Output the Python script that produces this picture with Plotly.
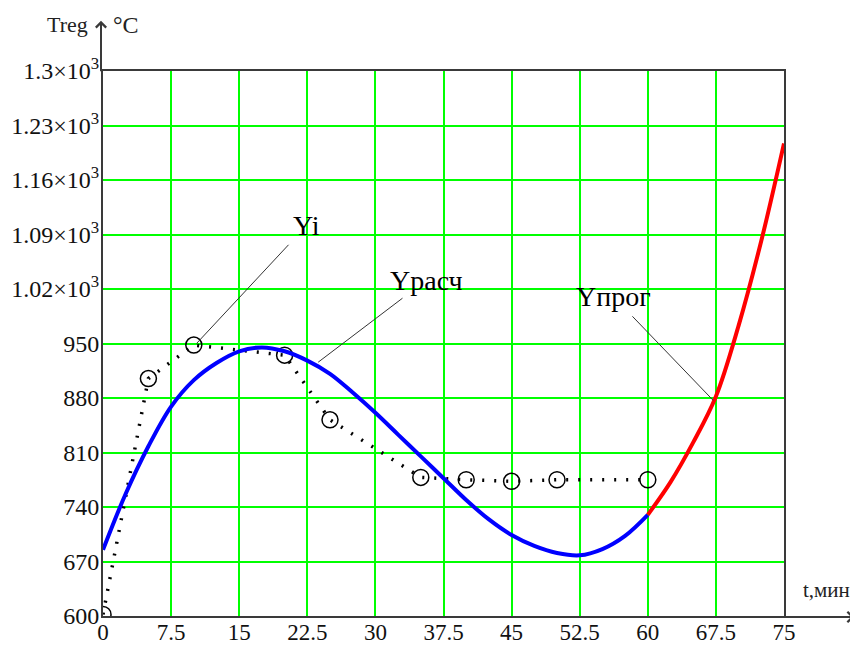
import plotly.graph_objects as go

# ---- data ----
t_calc = [0, 2.5, 5, 7.5, 10, 12.5, 15, 17.5, 20, 22.5, 25, 27.5, 30,
          32.5, 35, 37.5, 40, 42.5, 45, 47.5, 50, 52.5, 55, 57.5, 60]
y_calc = [685, 757, 818, 869, 903, 925, 940, 945, 940, 928, 911, 887, 861,
          833, 805, 777, 749, 724, 704, 690, 681, 678, 686, 703, 730]

t_prog = [60, 62.5, 65, 67.5, 70, 72.5, 75]
y_prog = [730, 772, 823, 882, 973, 1082, 1207]

t_obs = [0, 5, 10, 20, 25, 35, 40, 45, 50, 60]
y_obs = [602, 905, 948, 935, 852, 778, 775, 773, 775, 775]

x_ticks = [0, 7.5, 15, 22.5, 30, 37.5, 45, 52.5, 60, 67.5, 75]
x_tick_labels = ["0", "7.5", "15", "22.5", "30", "37.5", "45", "52.5", "60", "67.5", "75"]
y_ticks = [600, 670, 740, 810, 880, 950, 1020, 1090, 1160, 1230, 1300]
y_tick_labels = ["600", "670", "740", "810", "880", "950",
                 "1.02×10<sup>3</sup>", "1.09×10<sup>3</sup>", "1.16×10<sup>3</sup>",
                 "1.23×10<sup>3</sup>", "1.3×10<sup>3</sup>"]

SERIF = "Liberation Serif, Times New Roman, serif"
AXIS_COLOR = "#3a3a3a"

fig = go.Figure()

fig.add_trace(go.Scatter(
    x=t_obs, y=y_obs, mode="lines+markers", name="Yi",
    line=dict(color="black", width=3.5, dash="2px,10px"),
    marker=dict(symbol="circle-open", size=16, color="black", line=dict(width=1.5, color="black")),
))
fig.add_trace(go.Scatter(
    x=t_calc, y=y_calc, mode="lines", name="Yрасч",
    line=dict(color="#0000ff", width=4, shape="spline", smoothing=1.0),
))
fig.add_trace(go.Scatter(
    x=t_prog, y=y_prog, mode="lines", name="Yпрог",
    line=dict(color="#ff0000", width=4, shape="spline"),
))

annotations = [
    dict(x=10.3, y=950, xref="x", yref="y", text="Yi", showarrow=True,
         ax=110, ay=-118, arrowhead=0, arrowwidth=1, arrowcolor="#333",
         font=dict(family=SERIF, size=28, color="black"), borderpad=4),
    dict(x=23.7, y=926, xref="x", yref="y", text="Yрасч", showarrow=True,
         ax=108, ay=-82, arrowhead=0, arrowwidth=1, arrowcolor="#333",
         font=dict(family=SERIF, size=28, color="black"), borderpad=2),
    dict(x=67.2, y=877, xref="x", yref="y", text="Yпрог", showarrow=True,
         ax=-100, ay=-104, arrowhead=0, arrowwidth=1, arrowcolor="#333",
         font=dict(family=SERIF, size=28, color="black"), borderpad=4),
    # y-axis arrow
    dict(x=0, y=1.092, xref="paper", yref="paper", text="", showarrow=True,
         ax=0, ay=52, arrowhead=4, arrowsize=1, arrowwidth=2, arrowcolor=AXIS_COLOR,
         xshift=-2),
    # x-axis arrow
    dict(x=1.103, y=0, xref="paper", yref="paper", text="", showarrow=True,
         ax=-72, ay=0, arrowhead=4, arrowsize=1, arrowwidth=2, arrowcolor=AXIS_COLOR,
         yshift=-1),
    dict(x=-0.019, y=1.085, xref="paper", yref="paper", text="Treg", showarrow=False,
         xanchor="right", yanchor="middle", font=dict(family=SERIF, size=22, color="#222")),
    dict(x=0.012, y=1.085, xref="paper", yref="paper", text="°C", showarrow=False,
         xanchor="left", yanchor="middle", font=dict(family=SERIF, size=24, color="#222")),
    dict(x=1.025, y=0.047, xref="paper", yref="paper", text="t,мин", showarrow=False,
         xanchor="left", yanchor="middle", font=dict(family=SERIF, size=21, color="#222")),
]

# the page body has an 8px margin, so the plot area is placed 8px up/left
fig.update_layout(
    width=858, height=646,
    margin=dict(l=95, r=82, t=63, b=38, autoexpand=False),
    paper_bgcolor="white", plot_bgcolor="white",
    showlegend=False,
    annotations=annotations,
    xaxis=dict(range=[0, 75], tickmode="array", tickvals=x_ticks, ticktext=x_tick_labels,
               showgrid=True, gridcolor="#00ff00", gridwidth=2,
               showline=True, linecolor=AXIS_COLOR, linewidth=2, mirror=True,
               zeroline=False, ticks="", automargin=False, ticklabelstandoff=-6,
               tickfont=dict(family=SERIF, size=23, color="#111")),
    yaxis=dict(range=[600, 1300], tickmode="array", tickvals=y_ticks, ticktext=y_tick_labels,
               showgrid=True, gridcolor="#00ff00", gridwidth=2,
               showline=True, linecolor=AXIS_COLOR, linewidth=2, mirror=True,
               zeroline=False, ticks="", automargin=False, ticklabelstandoff=-3,
               tickfont=dict(family=SERIF, size=24, color="#111")),
)

fig.write_html("out.html")
